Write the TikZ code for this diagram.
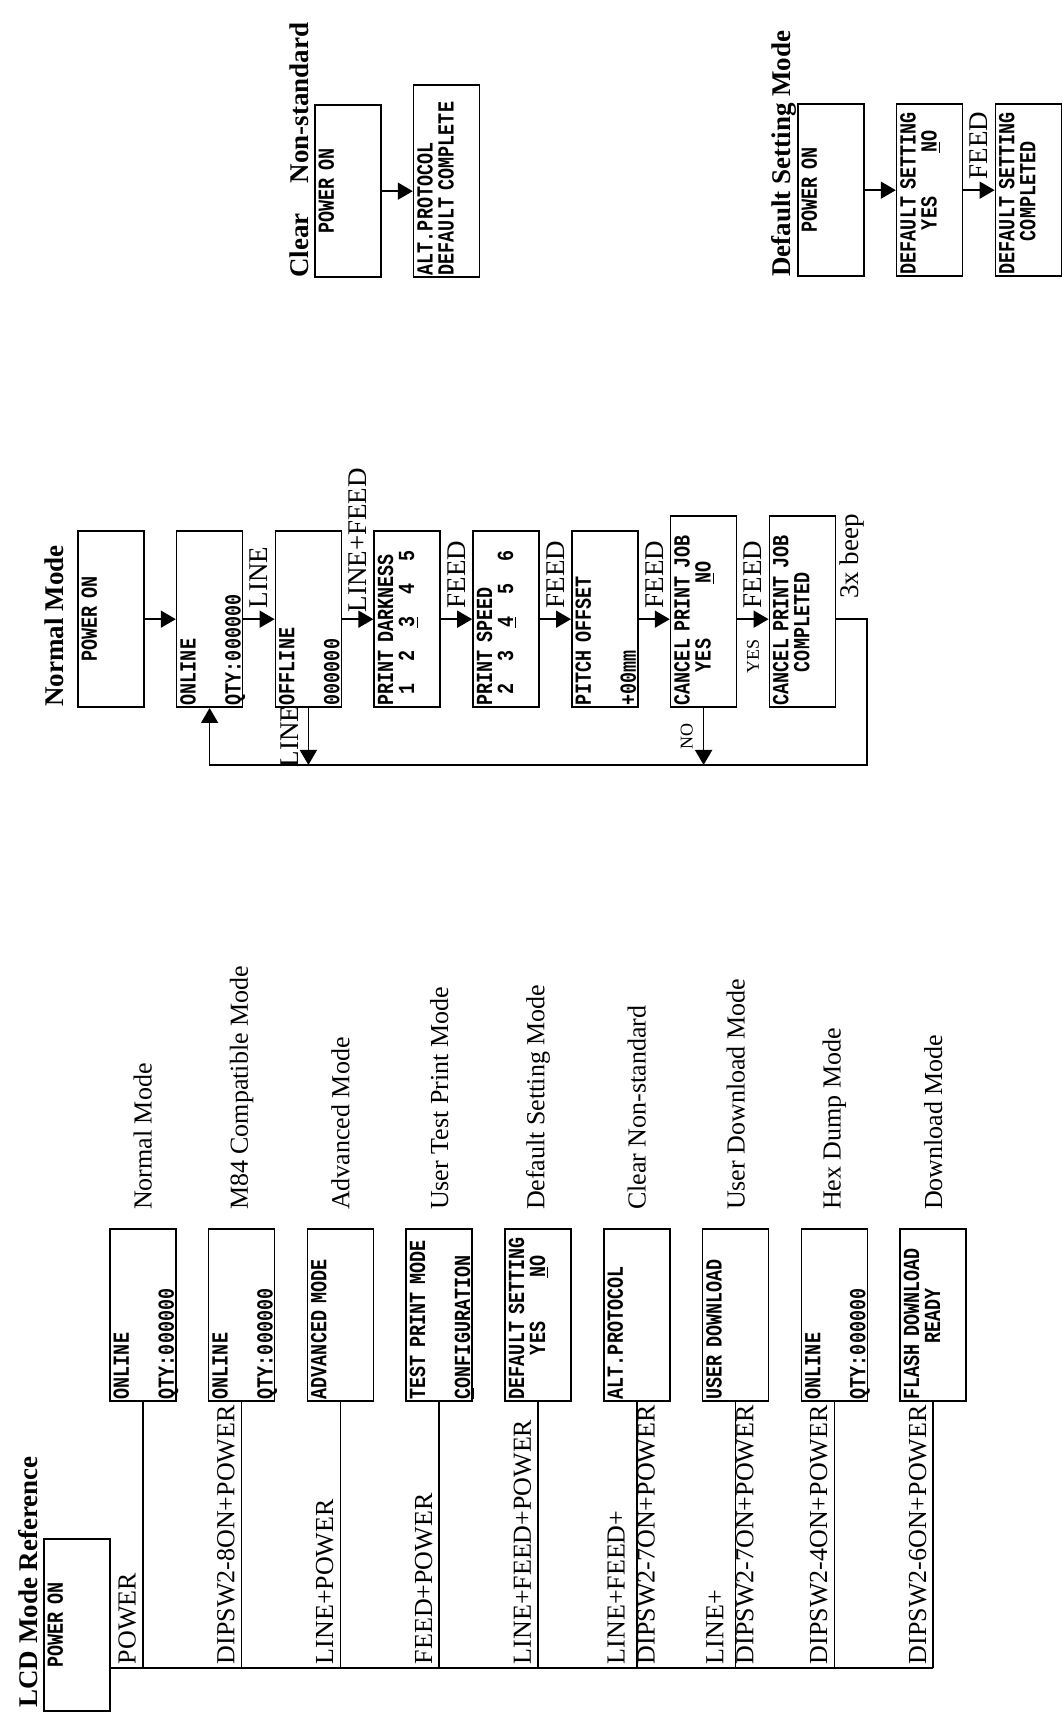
\documentclass[tikz,border=0pt]{standalone}
\usepackage{fontspec}
\setmainfont{Liberation Serif}
\newfontfamily\lcdfont[FakeStretch=0.8]{Liberation Mono}
\usetikzlibrary{arrows.meta,positioning}

\begin{document}
\begin{tikzpicture}[
  x=0.5pt, y=-0.5pt, rotate=90, transform shape,
  node distance=15.6pt,
  screen/.style={draw, line width=0.8pt, text width=#1, inner xsep=1pt, inner ysep=0pt,
    text height=9.5pt, text depth=23.5pt, align=left,
    font=\lcdfont\bfseries\fontsize{11.5}{10.5}\selectfont},
  screen/.default=84pt,
  splitlines/.style={font=\lcdfont\bfseries\fontsize{11.5}{22.5}\selectfont},
  heading/.style={inner sep=0pt, font=\bfseries\fontsize{13.5}{16}\selectfont},
  keylbl/.style={inner sep=0pt, anchor=south west, xshift=1.5pt, yshift=3pt,
    align=left, font=\fontsize{13}{15}\selectfont},
  modelbl/.style={inner sep=0pt, font=\fontsize{13}{15}\selectfont},
  flowlbl/.style={inner sep=0pt, font=\fontsize{13.5}{16}\selectfont},
  tinylbl/.style={inner sep=0pt, font=\fontsize{9}{11}\selectfont},
  wire/.style={line width=0.8pt},
  flow/.style={-{Triangle[length=7.5pt,width=8.5pt]}, line width=0.8pt}
]
\useasboundingbox (0,0) rectangle (1717,1062);

% LCD mode reference
\node[screen, align=center, anchor=north west] (pon1) at (5,43) {POWER ON};
\node[heading, above=3pt of pon1.north west, anchor=base west, xshift=2pt] (lcdtitle) {LCD Mode Reference};
\node[screen, splitlines, anchor=north west] (online1) at (315,109) {ONLINE\\QTY:000000};
\node[screen, splitlines, below=of online1] (online2) {ONLINE\\QTY:000000};
\node[screen, below=of online2] (advanced) {ADVANCED MODE};
\node[screen, splitlines, below=of advanced] (testprint) {TEST PRINT MODE\\\underline{C}ONFIGURATION};
\node[screen, below=of testprint] (defaults) {DEFAULT SETTING\\\phantom{0000}YES\phantom{0000}\underline{N}O};
\node[screen, below=of defaults] (altproto) {ALT.PROTOCOL};
\node[screen, below=of altproto] (userdl) {USER DOWNLOAD};
\node[screen, splitlines, below=of userdl] (hexdump) {ONLINE\\QTY:000000};
\node[screen, below=of hexdump] (flashdl) {FLASH DOWNLOAD\\\phantom{00000}READY};

\node[modelbl, right=9pt of online1] (m1) {Normal Mode};
\node[modelbl, right=9pt of online2] (m2) {M84 Compatible Mode};
\node[modelbl, right=9pt of advanced] (m3) {Advanced Mode};
\node[modelbl, right=9pt of testprint] (m4) {User Test Print Mode};
\node[modelbl, right=9pt of defaults] (m5) {Default Setting Mode};
\node[modelbl, right=9pt of altproto] (m6) {Clear Non-standard};
\node[modelbl, right=9pt of userdl] (m7) {User Download Mode};
\node[modelbl, right=9pt of hexdump] (m8) {Hex Dump Mode};
\node[modelbl, right=9pt of flashdl] (m9) {Download Mode};

\coordinate (trunk) at ([xshift=22pt]pon1.south west);
\draw[wire] (trunk) -- (trunk |- flashdl.west);
\draw[wire] (trunk |- online1.west) node[keylbl] (k1) {POWER} -- (online1.west);
\draw[wire] (trunk |- online2.west) node[keylbl] (k2) {DIPSW2-8ON+POWER} -- (online2.west);
\draw[wire] (trunk |- advanced.west) node[keylbl] (k3) {LINE+POWER} -- (advanced.west);
\draw[wire] (trunk |- testprint.west) node[keylbl] (k4) {FEED+POWER} -- (testprint.west);
\draw[wire] (trunk |- defaults.west) node[keylbl] (k5) {LINE+FEED+POWER} -- (defaults.west);
\draw[wire] (trunk |- altproto.west) node[keylbl, yshift=-12.5pt] (k6) {LINE+FEED+\\DIPSW2-7ON+POWER} -- (altproto.west);
\draw[wire] (trunk |- userdl.west) node[keylbl, yshift=-12.5pt] (k7) {LINE+\\DIPSW2-7ON+POWER} -- (userdl.west);
\draw[wire] (trunk |- hexdump.west) node[keylbl] (k8) {DIPSW2-4ON+POWER} -- (hexdump.west);
\draw[wire] (trunk |- flashdl.west) node[keylbl] (k9) {DIPSW2-6ON+POWER} -- (flashdl.west);

% normal mode
\node[screen=86pt, align=center, anchor=north west] (poweron) at (1009,77) {POWER ON};
\node[heading, above=7pt of poweron.north west, anchor=base west, xshift=0.5pt] (normaltitle) {Normal Mode};
\node[screen=86pt, splitlines, below=of poweron] (online) {ONLINE\\QTY:000000};
\node[screen=86pt, splitlines, below=of online] (offline) {OFFLINE\\000000};
\node[screen=86pt, below=of offline] (darkness) {PRINT DARKNESS\\\phantom{0}1\phantom{00}2\phantom{00}\underline{3}\phantom{00}4\phantom{00}5};
\node[screen=86pt, below=of darkness] (speed) {PRINT SPEED\\\phantom{0}2\phantom{00}3\phantom{00}\underline{4}\phantom{00}5\phantom{00}6};
\node[screen=86pt, splitlines, below=of speed] (pitch) {PITCH OFFSET\\+00mm};
\node[screen=93.5pt, below=of pitch.south west, anchor=north west] (cancel) {CANCEL PRINT JOB\\\phantom{000}YES\phantom{00000}\underline{N}O};
\node[screen=93.5pt, below=of cancel] (cancelled) {CANCEL PRINT JOB\\\phantom{000}COMPLETED};

\draw[flow] (poweron) -- (online);
\draw[flow] (online) -- node[flowlbl, right=5pt] (f1) {LINE} (offline);
\draw[flow] (offline) -- node[flowlbl, right=3pt] (f2) {LINE+FEED} (darkness);
\draw[flow] (darkness) -- node[flowlbl, right=5pt] (f3) {FEED} (speed);
\draw[flow] (speed) -- node[flowlbl, right=5pt] (f4) {FEED} (pitch);
\draw[flow] (pitch) -- node[flowlbl, right=5pt] (f5) {FEED} (pitch.south |- cancel.north);
\draw[flow] (pitch.south |- cancel.south) -- node[flowlbl, right=5pt] (f6) {FEED}
  node[tinylbl, left=10pt] (yes) {YES} (pitch.south |- cancelled.north);

\coordinate (loop) at (952,0);
\draw[flow] (offline.west) -- node[flowlbl, above=4.5pt] (f7) {LINE} (loop |- offline.west);
\draw[flow] (cancel.west) -- node[tinylbl, above=5pt] (no) {NO} (loop |- cancel.west);
\draw[flow] (pitch.south |- cancelled.south) coordinate (drop) -- ++(0,31) -| (loop |- online.west) -- (online.west);
\node[flowlbl, below right=1.5pt and 10pt of drop] (beep) {3x beep};

% clear non-standard
\node[screen, align=center, anchor=north west] (poweron3) at (1439,314) {POWER ON};
\node[heading, above=3pt of poweron3.north west, anchor=base west] (cleartitle) {Clear\hspace{1.1em}Non-standard};
\node[screen=94pt, below=of poweron3.south west, anchor=north west] (altdone) {ALT.PROTOCOL\\DEFAULT COMPLETE};
\draw[flow] (poweron3) -- (poweron3 |- altdone.north);

% default setting mode
\node[screen, align=center, anchor=north west] (poweron4) at (1440,797) {POWER ON};
\node[heading, above=3.5pt of poweron4.north west, anchor=base west] (deftitle) {Default Setting Mode};
\node[screen, below=of poweron4] (defask) {DEFAULT SETTING\\\phantom{0000}YES\phantom{0000}\underline{N}O};
\node[screen, below=of defask] (defdone) {DEFAULT SETTING\\\phantom{000}COMPLETED};
\draw[flow] (poweron4) -- (defask);
\draw[flow] (defask) -- node[flowlbl, right=5pt] (f8) {FEED} (defdone);
\end{tikzpicture}
\end{document}
